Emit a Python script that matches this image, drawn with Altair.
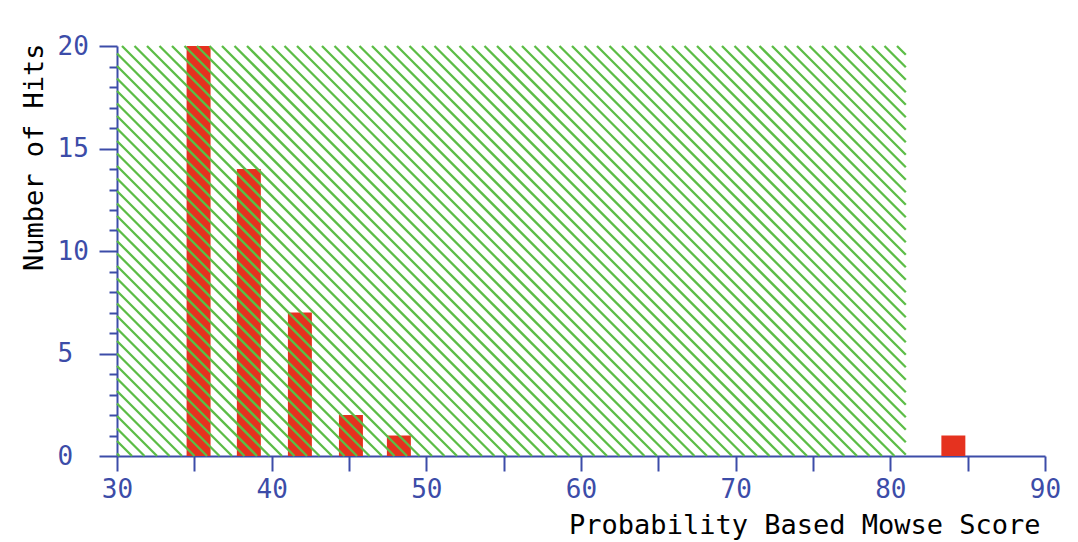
import altair as alt
import pandas as pd

# ---- data ----
bin_start = [34.5, 37.75, 41.05, 44.35, 47.45, 83.3]
bin_end = [36.05, 39.3, 42.6, 45.9, 49.0, 84.85]
hits = [20, 14, 7, 2, 1, 1]

x_min, x_max = 30, 90
y_max = 20
threshold = 81  # end of shaded (non-significant) region

x_ticks = list(range(30, 91, 5))
y_ticks = list(range(0, 21))

# ---- styling ----
W, H = 928, 410
RED = "#e5321f"
GREEN = "#5cbd46"
BLUE = "#3c4ca8"
FONT = "DejaVu Sans Mono"

bars = pd.DataFrame({"start": bin_start, "end": bin_end, "hits": hits})

xscale = alt.Scale(domain=[x_min, x_max], nice=False, zero=False)
yscale = alt.Scale(domain=[0, y_max], nice=False)

xaxis = alt.Axis(
    values=x_ticks,
    labelExpr="datum.value % 10 === 0 ? datum.label : ''",
    tickSize=15, tickWidth=2, domainWidth=2,
    domainColor=BLUE, tickColor=BLUE, labelColor=BLUE,
    labelFont=FONT, labelFontSize=26, labelPadding=5,
    labelFlush=False, labelOverlap=False, labelBound=False,
    grid=False,
    title="Probability Based Mowse Score",
    titleFont=FONT, titleFontSize=27, titleFontWeight="normal", titleColor="black",
    titleX=923, titleY=77, titleAlign="right", titleBaseline="alphabetic",
)

yaxis = alt.Axis(
    values=y_ticks,
    labelExpr="datum.value % 5 === 0 ? datum.label : ''",
    tickSize={"condition": {"test": "datum.value % 5 === 0", "value": 18}, "value": 8},
    tickWidth=2, domainWidth=2,
    domainColor=BLUE, tickColor=BLUE, labelColor=BLUE,
    labelFont=FONT, labelFontSize=26, labelAlign="left", labelBaseline="middle",
    labelPadding=42, labelFlush=False, labelOverlap=False, labelBound=False,
    grid=False,
    title="Number of Hits",
    titleFont=FONT, titleFontSize=27, titleFontWeight="normal", titleColor="black",
    titleAngle=270, titleX=-75, titleY=-3, titleAlign="right", titleBaseline="alphabetic",
)

bar_layer = alt.Chart(bars).mark_rect(color=RED).encode(
    x=alt.X("start:Q", scale=xscale, axis=xaxis),
    x2="end:Q",
    y=alt.Y("hits:Q", scale=yscale, axis=yaxis),
    y2=alt.datum(0),
)

# diagonal hatching of the shaded region (45 degrees in screen space)
sx = W / (x_max - x_min)
sy = H / y_max
Wg = (threshold - x_min) * sx
period = 12.5
c0 = 780
n_lines = 100

hatch = (
    alt.Chart(alt.sequence(0, n_lines, as_="k"))
    .transform_calculate(c=f"{c0} - {period} * datum.k")
    .transform_calculate(t0="max(0, -datum.c)", t1=f"min({H}, {Wg} - datum.c)")
    .transform_filter("datum.t1 > datum.t0")
    .transform_calculate(
        hx=f"{x_min} + (datum.c + datum.t0) / {sx}",
        hx2=f"{x_min} + (datum.c + datum.t1) / {sx}",
        hy=f"{y_max} - datum.t0 / {sy}",
        hy2=f"{y_max} - datum.t1 / {sy}",
    )
    .mark_rule(color=GREEN, strokeWidth=2.3)
    .encode(
        x=alt.X("hx:Q", scale=xscale, axis=xaxis),
        x2="hx2:Q",
        y=alt.Y("hy:Q", scale=yscale, axis=yaxis),
        y2="hy2:Q",
    )
)

chart = (
    alt.layer(bar_layer, hatch)
    .properties(
        width=W, height=H,
        autosize=alt.AutoSizeParams(type="none"),
        padding={"left": 109, "top": 38, "right": 25, "bottom": 86},
        background="white",
    )
    .configure_view(stroke=None)
)

chart.save("out.html", embed_options={"renderer": "svg", "actions": False})
